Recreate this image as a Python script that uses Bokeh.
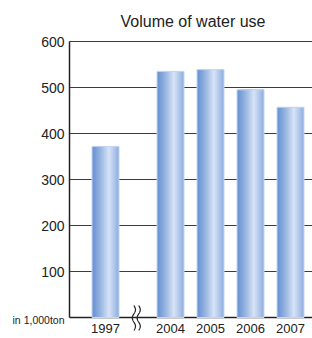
import numpy as np
from bokeh.plotting import figure
from bokeh.models import Range1d, FixedTicker, ColumnDataSource
from bokeh.core.properties import value
from bokeh.embed import file_html
from bokeh.resources import INLINE

# data
years = ["1997", "2004", "2005", "2006", "2007"]
volumes = [372, 535, 539, 495, 457]
y_ticks = [0, 100, 200, 300, 400, 500, 600]
unit_label = "in 1,000ton"
title = "Volume of water use"

# layout (slot positions along x; gap for the broken axis)
positions = [0.9, 2.525, 3.525, 4.525, 5.525]
bar_width = 0.675
break_pos = 1.67
x_end = 6.075

FONT = "Liberation Sans"

p = figure(width=312, height=338, output_backend="svg", toolbar_location=None,
           x_range=Range1d(-1.725, x_end), y_range=Range1d(-45.65, 617.4),
           x_axis_location=None, min_border_left=0, min_border_right=0,
           min_border_top=33, min_border_bottom=0, title=title)
p.outline_line_color = None
p.background_fill_color = "white"
p.border_fill_color = "white"

p.title.text_font = FONT
p.title.text_font_size = "16px"
p.title.text_font_style = "normal"
p.title.text_color = "#222222"
p.title.align = "left"
p.title.offset = 120
p.title.standoff = 8

# y axis pinned at x = 0 inside the frame
yax = p.yaxis[0]
yax.fixed_location = 0
yax.ticker = FixedTicker(ticks=y_ticks)
yax.bounds = (0, 600)
yax.major_label_overrides = {0: ""}
yax.major_label_text_font = FONT
yax.major_label_text_font_size = "14px"
yax.major_label_text_color = "#222222"
yax.axis_line_color = "#222222"
yax.axis_line_width = 1.5
yax.major_tick_out = 0
yax.major_tick_in = 0
yax.minor_tick_out = 0
yax.minor_tick_in = 0
yax.major_label_standoff = 5

p.xgrid.visible = False
p.ygrid.visible = False

# horizontal grid lines from the axis to the right edge
p.segment(x0=[0] * (len(y_ticks) - 1), x1=[x_end] * (len(y_ticks) - 1),
          y0=y_ticks[1:], y1=y_ticks[1:], line_color="#3c3c3c", line_width=1.2)
# bottom axis line
p.segment(x0=[0], x1=[x_end], y0=[0], y1=[0], line_color="#222222", line_width=1.5)

# gradient bars built as overlapping strips (each strip runs to the bar's right edge)
N = 20
dark = np.array([104, 146, 211])
light = np.array([214, 227, 246])
right = np.array([138, 171, 223])
sl, sr, sh, sc = [], [], [], []
for pos, v in zip(positions, volumes):
    for i in range(N):
        t = (i + 0.5) / N
        if t < 0.62:
            f = (t / 0.62) ** 1.2
            c = dark + (light - dark) * f
        else:
            f = ((t - 0.62) / 0.38) ** 1.1
            c = light + (right - light) * f
        sl.append(pos - bar_width / 2 + i * bar_width / N)
        sr.append(pos + bar_width / 2)
        sh.append(v)
        sc.append("#%02x%02x%02x" % tuple(int(round(k)) for k in c))
src = ColumnDataSource(dict(left=sl, right=sr, top=sh, color=sc))
p.quad(left="left", right="right", top="top", bottom=0, source=src,
       fill_color="color", line_color=None)
# light rim
p.vbar(x=positions, width=bar_width, top=volumes, bottom=0,
       fill_color=None, line_color="#c4d6f1", line_width=1)

# year labels under the axis
p.text(x=positions, y=[0] * len(years), text=years, text_font=value(FONT),
       text_font_size="13px", text_color="#222222", text_align="center",
       text_baseline="top", y_offset=6)

# unit label beside the zero line
p.text(x=[0], y=[0], text=[unit_label], text_font=value(FONT),
       text_font_size="10.5px", text_color="#222222", text_align="right",
       text_baseline="middle", x_offset=-5, y_offset=2)

# axis break squiggles
yy = np.linspace(-28, 26, 60)
for dx in (-0.06, 0.06):
    xx = break_pos + dx + 0.04 * np.sin((yy + 28) / 54 * 2 * np.pi * 1.5)
    p.line(xx, yy, line_color="#222222", line_width=1.2)

open("out.html", "w").write(file_html(p, INLINE))
